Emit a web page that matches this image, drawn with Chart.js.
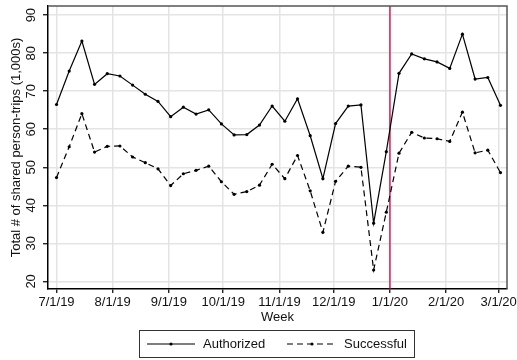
<!DOCTYPE html>
<html>
<head>
<meta charset="utf-8">
<title>Weekly shared person-trips</title>
<script src="https://cdn.jsdelivr.net/npm/chart.js@4.4.1/dist/chart.umd.min.js"></script>
<style>
  html, body { margin: 0; padding: 0; background: #fff; }
  #wrap { width: 517px; height: 360px; }
</style>
</head>
<body>
<div id="wrap"><canvas id="chart" width="517" height="360"></canvas></div>
<script>
// Week start dates (Mondays)
const weeks = [
  '2019-07-01','2019-07-08','2019-07-15','2019-07-22','2019-07-29',
  '2019-08-05','2019-08-12','2019-08-19','2019-08-26',
  '2019-09-02','2019-09-09','2019-09-16','2019-09-23','2019-09-30',
  '2019-10-07','2019-10-14','2019-10-21','2019-10-28',
  '2019-11-04','2019-11-11','2019-11-18','2019-11-25',
  '2019-12-02','2019-12-09','2019-12-16','2019-12-23','2019-12-30',
  '2020-01-06','2020-01-13','2020-01-20','2020-01-27',
  '2020-02-03','2020-02-10','2020-02-17','2020-02-24','2020-03-02'
];

// Total shared person-trips per week (thousands)
const authorized = [
  66.5, 75.3, 83.2, 71.8, 74.6, 74.0, 71.6, 69.2, 67.3,
  63.3, 65.8, 64.0, 65.1, 61.4, 58.5, 58.6, 61.1, 66.1,
  62.1, 68.0, 58.3, 47.0, 61.5, 66.1, 66.4, 35.3, 54.1,
  74.7, 79.8, 78.5, 77.7, 76.0, 85.0, 73.2, 73.6, 66.3
];
const successful = [
  47.3, 55.4, 64.1, 54.0, 55.5, 55.6, 52.7, 51.2, 49.6,
  45.2, 48.3, 49.2, 50.3, 46.2, 42.9, 43.6, 45.3, 50.8,
  47.0, 53.1, 43.8, 32.9, 46.3, 50.3, 50.0, 23.0, 38.2,
  53.7, 59.2, 57.7, 57.5, 56.8, 64.5, 53.8, 54.5, 48.6
];

// Month ticks on the x axis
const tickDates  = ['2019-07-01','2019-08-01','2019-09-01','2019-10-01','2019-11-01',
                    '2019-12-01','2020-01-01','2020-02-01','2020-03-01'];
const tickLabels = ['7/1/19','8/1/19','9/1/19','10/1/19','11/1/19',
                    '12/1/19','1/1/20','2/1/20','3/1/20'];
const yTicks = [20, 30, 40, 50, 60, 70, 80, 90];

// Date marked with the vertical reference line
const markerDate = '2020-01-01';

// Days elapsed since the first week, used as the linear x value
const origin = Date.parse(weeks[0] + 'T00:00:00Z');
const dayOf = s => Math.round((Date.parse(s + 'T00:00:00Z') - origin) / 86400000);

const weekDays = weeks.map(dayOf);
const tickDays = tickDates.map(dayOf);
const series = arr => arr.map((v, i) => ({ x: weekDays[i], y: v }));

const FONT = "'Liberation Sans', Arial, Helvetica, sans-serif";
const INK = '#111';
Chart.defaults.font.family = FONT;
Chart.defaults.font.size = 13;
Chart.defaults.color = INK;

const DASH = [6, 4];

// Vertical marker line, drawn under the series
const markerLine = {
  id: 'markerLine',
  beforeDatasetsDraw(chart) {
    const { ctx, chartArea, scales } = chart;
    const x = scales.x.getPixelForValue(dayOf(markerDate));
    ctx.save();
    ctx.strokeStyle = '#d4003c';
    ctx.lineWidth = 1.3;
    ctx.beginPath();
    ctx.moveTo(x, chartArea.top);
    ctx.lineTo(x, chartArea.bottom);
    ctx.stroke();
    ctx.restore();
  }
};

// Gray frame on the top and right sides of the plot region
const plotFrame = {
  id: 'plotFrame',
  afterDatasetsDraw(chart) {
    const { ctx, chartArea: a } = chart;
    ctx.save();
    ctx.strokeStyle = '#555';
    ctx.lineWidth = 1.5;
    ctx.beginPath();
    ctx.moveTo(a.left, a.top);
    ctx.lineTo(a.right, a.top);
    ctx.lineTo(a.right, a.bottom);
    ctx.stroke();
    ctx.restore();
  }
};

// Boxed legend with line-and-marker keys below the axis title
const boxLegend = {
  id: 'boxLegend',
  afterDraw(chart) {
    const { ctx } = chart;
    const box = { x: 139.5, y: 330.5, w: 275, h: 27 };
    const cy = box.y + box.h / 2;
    const items = [
      { ds: chart.data.datasets[0], x0: 147, x1: 195, tx: 203 },
      { ds: chart.data.datasets[1], x0: 287, x1: 337, tx: 344 }
    ];
    ctx.save();
    ctx.strokeStyle = '#333';
    ctx.lineWidth = 1;
    ctx.strokeRect(box.x, box.y, box.w, box.h);
    items.forEach(it => {
      ctx.strokeStyle = it.ds.borderColor;
      ctx.lineWidth = it.ds.borderWidth;
      ctx.setLineDash(it.ds.borderDash || []);
      ctx.beginPath();
      ctx.moveTo(it.x0, cy);
      ctx.lineTo(it.x1, cy);
      ctx.stroke();
      ctx.setLineDash([]);
      ctx.fillStyle = it.ds.pointBackgroundColor;
      ctx.beginPath();
      ctx.arc((it.x0 + it.x1) / 2, cy, it.ds.pointRadius, 0, Math.PI * 2);
      ctx.fill();
      ctx.fillStyle = INK;
      ctx.font = '13px ' + FONT;
      ctx.textAlign = 'left';
      ctx.textBaseline = 'middle';
      ctx.fillText(it.ds.label, it.tx, cy + 0.5);
    });
    ctx.restore();
  }
};

new Chart(document.getElementById('chart'), {
  type: 'line',
  data: {
    datasets: [
      {
        label: 'Authorized',
        data: series(authorized),
        borderColor: '#000',
        borderWidth: 1.2,
        pointRadius: 1.6,
        pointHoverRadius: 1.6,
        pointBorderWidth: 0,
        pointBackgroundColor: '#000',
        tension: 0,
        fill: false
      },
      {
        label: 'Successful',
        data: series(successful),
        borderColor: '#000',
        borderWidth: 1.2,
        borderDash: DASH,
        pointRadius: 1.6,
        pointHoverRadius: 1.6,
        pointBorderWidth: 0,
        pointBackgroundColor: '#000',
        tension: 0,
        fill: false
      }
    ]
  },
  options: {
    responsive: false,
    animation: false,
    devicePixelRatio: 1,
    layout: { padding: { left: 0, right: 10, top: 6, bottom: 35 } },
    plugins: { legend: { display: false }, tooltip: { enabled: false } },
    scales: {
      x: {
        type: 'linear',
        min: -4.7,
        max: 248.6,
        afterBuildTicks: s => { s.ticks = tickDays.map(v => ({ value: v })); },
        afterFit: s => { s.height = 36; s.paddingLeft = 0; s.paddingRight = 0; },
        ticks: {
          autoSkip: false,
          minRotation: 0,
          maxRotation: 0,
          padding: 2,
          callback: (v, i) => tickLabels[i]
        },
        grid: { color: '#e4e4e4', lineWidth: 1.5, tickColor: '#000', tickLength: 4, tickWidth: 1.2 },
        border: { color: '#000', width: 1.5 },
        title: { display: true, text: 'Week', padding: { top: 0, bottom: 0 } }
      },
      y: {
        min: 18.0,
        max: 92.4,
        afterBuildTicks: s => { s.ticks = yTicks.map(v => ({ value: v })); },
        afterFit: s => { s.width = 48; s.paddingTop = 0; s.paddingBottom = 0; },
        ticks: {
          minRotation: 90,
          maxRotation: 90,
          crossAlign: 'center',
          padding: 4,
          callback: v => String(v)
        },
        grid: { color: '#e4e4e4', lineWidth: 1.5, tickColor: '#000', tickLength: 5, tickWidth: 1.2 },
        border: { color: '#000', width: 1.5 },
        title: {
          display: true,
          text: 'Total # of shared person-trips (1,000s)',
          padding: { top: 9, bottom: 0 }
        }
      }
    }
  },
  plugins: [markerLine, plotFrame, boxLegend]
});
</script>
</body>
</html>
